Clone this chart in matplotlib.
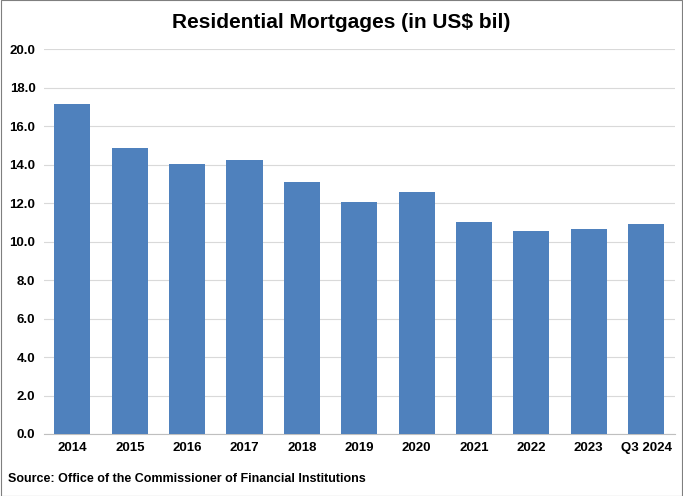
import matplotlib.pyplot as plt
import matplotlib.patches as mpatches

categories = ['2014', '2015', '2016', '2017', '2018', '2019', '2020', '2021', '2022', '2023', 'Q3 2024']
values = [17.15, 14.87, 14.05, 14.25, 13.1, 12.07, 12.55, 11.03, 10.57, 10.67, 10.93]
yticks = [0, 2, 4, 6, 8, 10, 12, 14, 16, 18, 20]

plt.rcParams['font.family'] = 'Liberation Sans'
plt.rcParams['font.weight'] = 'bold'

fig = plt.figure(figsize=(6.83, 4.96), dpi=100)
ax = fig.add_axes([0.064, 0.125, 0.924, 0.776])

ax.bar(categories, values, width=0.63, color='#4F81BD', zorder=3)
ax.set_ylim(0, 20)
ax.set_xlim(-0.5, len(categories) - 0.5)
ax.set_yticks(yticks)
ax.set_yticklabels([f'{v:.1f}' for v in yticks], fontsize=9.5, fontweight='bold')
ax.tick_params(axis='x', labelsize=9.5, length=0, pad=6)
ax.tick_params(axis='y', length=0, pad=6)
ax.grid(axis='y', color='#d9d9d9', linewidth=0.8, zorder=0)
for s in ['top', 'right', 'left']:
    ax.spines[s].set_visible(False)
ax.spines['bottom'].set_color('#bfbfbf')
for lbl in ax.get_xticklabels():
    lbl.set_fontweight('bold')

fig.text(0.5, 0.955, 'Residential Mortgages (in US$ bil)', ha='center', va='center',
         fontsize=15, fontweight='bold')
fig.text(0.012, 0.035, 'Source: Office of the Commissioner of Financial Institutions',
         ha='left', va='center', fontsize=9, fontweight='bold')

fig.patches.append(mpatches.Rectangle((0.001, 0.001), 0.998, 0.998, transform=fig.transFigure,
                                      fill=False, edgecolor='#7f7f7f', linewidth=0.8))

fig.savefig('out.png', dpi=100)
